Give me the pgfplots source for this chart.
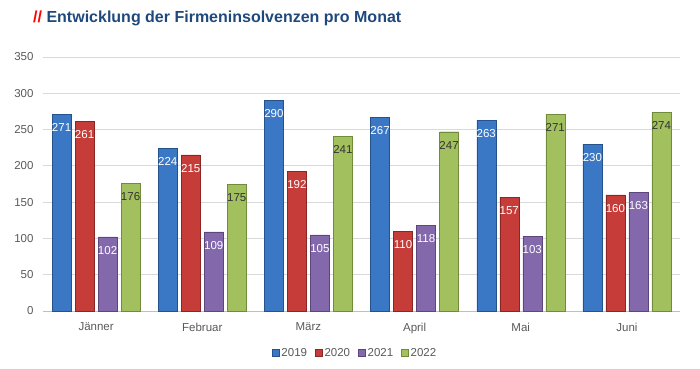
\documentclass[border=0pt]{standalone}
\usepackage{pgfplots}
\pgfplotsset{compat=1.18}
\usepackage{fontspec}
\setmainfont{Liberation Sans}
\definecolor{titleblue}{RGB}{31,73,125}
\definecolor{ticktext}{RGB}{89,89,89}
\definecolor{gridc}{RGB}{217,217,217}
\definecolor{axisc}{RGB}{191,191,191}
\definecolor{bF}{RGB}{58,120,198}\definecolor{bD}{RGB}{38,82,140}
\definecolor{rF}{RGB}{198,60,56}\definecolor{rD}{RGB}{140,38,36}
\definecolor{pF}{RGB}{132,104,172}\definecolor{pD}{RGB}{92,70,124}
\definecolor{gF}{RGB}{162,192,94}\definecolor{gD}{RGB}{112,140,58}
\definecolor{lbldark}{RGB}{50,50,50}
\begin{document}
\begin{tikzpicture}
\useasboundingbox (0,0) rectangle (700bp,369bp);
\node[anchor=base west, inner sep=0pt, font=\fontsize{16bp}{18bp}\selectfont\bfseries] at (33bp,346bp) {\textcolor{red}{//} \textcolor{titleblue}{Entwicklung der Firmeninsolvenzen pro Monat}};
\begin{axis}[
  at={(43bp,58bp)}, anchor=south west,
  scale only axis, width=637bp, height=254bp,
  ybar=4bp, bar width=19bp,
  xmin=-0.5, xmax=5.5, ymin=0, ymax=350,
  ytick={0,50,...,350},
  xtick={0,...,5},
  xticklabels={Jänner,Februar,März,April,Mai,Juni},
  /pgf/number format/assume math mode=true,
  ymajorgrids, grid style={gridc, line width=0.8pt},
  axis y line*=left,
  y axis line style={draw=none},
  axis x line*=bottom,
  x axis line style={axisc, line width=0.8pt, -},
  xtick style={draw=none}, ytick style={draw=none},
  tick label style={font=\fontsize{11.5bp}{13bp}\selectfont, text=ticktext},
  yticklabel style={xshift=-6bp},
  xticklabel style={yshift=-4bp},
  clip=false,
  nodes near coords,
  every node near coord/.append style={anchor=north, yshift=-8bp, inner sep=1bp, font=\fontsize{11.5bp}{13bp}\selectfont},
  legend style={at={(0.490,-0.165)}, anchor=center, draw=none, legend columns=4, font=\fontsize{11.5bp}{13bp}\selectfont, text=ticktext,
    /tikz/every even column/.append style={column sep=6bp}},
  legend image code/.code={\path[#1] (0bp,-3.5bp) rectangle (7bp,3.5bp);},
]
\addplot[fill=bF, draw=bD, line width=0.5pt, every node near coord/.append style={text=white}] coordinates {(0,271) (1,224) (2,290) (3,267) (4,263) (5,230)};
\addplot[fill=rF, draw=rD, line width=0.5pt, every node near coord/.append style={text=white}] coordinates {(0,261) (1,215) (2,192) (3,110) (4,157) (5,160)};
\addplot[fill=pF, draw=pD, line width=0.5pt, every node near coord/.append style={text=white}] coordinates {(0,102) (1,109) (2,105) (3,118) (4,103) (5,163)};
\addplot[fill=gF, draw=gD, line width=0.5pt, every node near coord/.append style={text=lbldark}] coordinates {(0,176) (1,175) (2,241) (3,247) (4,271) (5,274)};
\legend{2019,2020,2021,2022}
\end{axis}
\end{tikzpicture}
\end{document}
